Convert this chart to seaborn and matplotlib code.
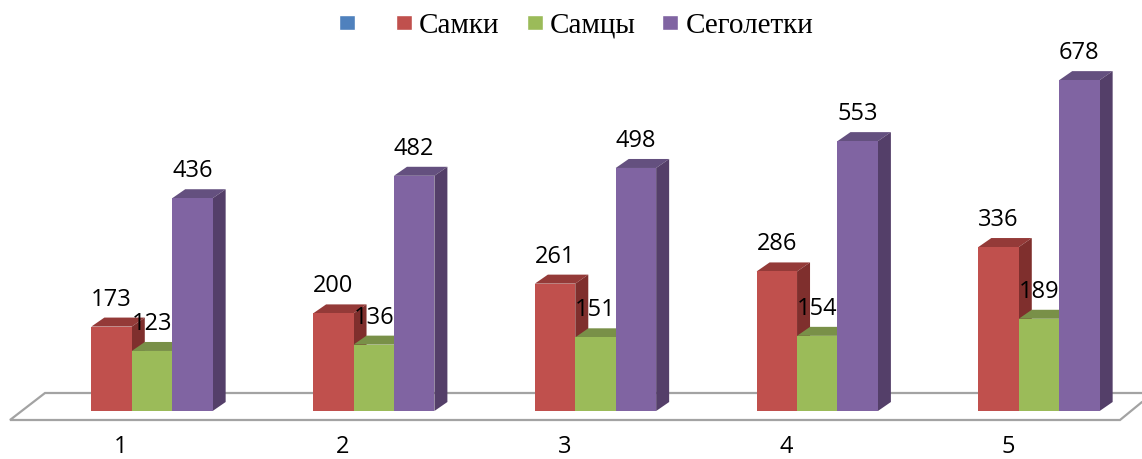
import matplotlib
matplotlib.use("Agg")
import matplotlib.pyplot as plt
from matplotlib.patches import Patch, Polygon
from matplotlib.transforms import ScaledTranslation
import pandas as pd
import seaborn as sns

groups = ["1", "2", "3", "4", "5"]
females = [173, 200, 261, 286, 336]
males = [123, 136, 151, 154, 189]
yearlings = [436, 482, 498, 553, 678]
series_names = ["Самки", "Самцы", "Сеголетки"]
blank_name = " "
front_colors = ["#C0504D", "#9BBB59", "#8064A2"]
top_colors = ["#943A38", "#799048", "#64507F"]
side_colors = ["#7F2F2D", "#667A3A", "#543F69"]
blank_color = "#4F81BD"

W, H, DPI = 1142, 459, 100
PX_X = 221.75     # pixels per category
PX_Y = 0.488      # pixels per value unit
X0, Y0 = 152, 411
DX, DY = 13 / PX_X, 9 / PX_Y   # depth of the 3-D look

df = pd.DataFrame({
    "Группа": groups * 3,
    "Серия": [n for n in series_names for _ in groups],
    "Значение": females + males + yearlings,
})

sns.set_theme(style="white")
fig = plt.figure(figsize=(W / DPI, H / DPI), dpi=DPI, facecolor="white")
ax = fig.add_axes([0, 0, 1, 1])
sns.barplot(data=df, x="Группа", y="Значение", hue="Серия", hue_order=series_names,
            palette=front_colors, saturation=1, width=0.547, gap=0, errorbar=None,
            legend=False, ax=ax)
ax.set_xlim(-X0 / PX_X, (W - X0) / PX_X)
ax.set_ylim((Y0 - H) / PX_Y, Y0 / PX_Y)
ax.set_xlabel("")
ax.set_ylabel("")
ax.set_yticks([])
for s in ax.spines.values():
    s.set_visible(False)
ax.spines["bottom"].set_position(("data", 0))
ax.patch.set_alpha(0)

# floor
def px(x, y):
    return ((x - X0) / PX_X, (Y0 - y) / PX_Y)
floor = [px(1142, 402), px(1120, 420), px(10, 420), px(45, 393), px(1142, 393)]
ax.add_line(plt.Line2D(*zip(*floor), color="#A3A3A3", lw=1.6, zorder=1, solid_joinstyle="miter"))

# 3-D faces and value labels, derived from the bars
for k, cont in enumerate(ax.containers):
    for bar in cont:
        x, w, h = bar.get_x(), bar.get_width(), bar.get_height()
        z = 3 + k
        bar.set_zorder(z + 0.5)
        bar.set_linewidth(0)
        ax.add_patch(Polygon([(x, h), (x + w, h), (x + w + DX, h + DY), (x + DX, h + DY)],
                             closed=True, fc=top_colors[k], ec="none", zorder=z))
        ax.add_patch(Polygon([(x + w, 0), (x + w + DX, DY), (x + w + DX, h + DY), (x + w, h)],
                             closed=True, fc=side_colors[k], ec="none", zorder=z))
        ax.annotate(f"{h:.0f}", (x + w / 2, h), xytext=(0, 27 * 72 / DPI), textcoords="offset points",
                    ha="center", va="center", fontsize=17, family="Open Sans",
                    color="black", zorder=20)

# category labels
ax.tick_params(axis="x", length=0, pad=17, labelsize=17)
shift = ScaledTranslation(-31 / DPI, 0, fig.dpi_scale_trans)
for lab in ax.get_xticklabels():
    lab.set_family("Open Sans")
    lab.set_color("black")
    lab.set_transform(lab.get_transform() + shift)

handles = [Patch(fc=blank_color, label=blank_name)] + [
    Patch(fc=c, label=n) for c, n in zip(front_colors, series_names)]
FS = 21
fspx = FS * DPI / 72
leg = ax.legend(handles=handles, loc="center", bbox_to_anchor=(576 / W, 1 - 26 / H), ncol=4,
                frameon=False, handlelength=16 / fspx, handleheight=0.43,
                handletextpad=7 / fspx, columnspacing=27 / fspx, borderpad=0, borderaxespad=0,
                prop={"family": "Liberation Serif", "size": FS})
for t in leg.get_texts():
    t.set_color("black")

fig.savefig("out.png", dpi=DPI)
